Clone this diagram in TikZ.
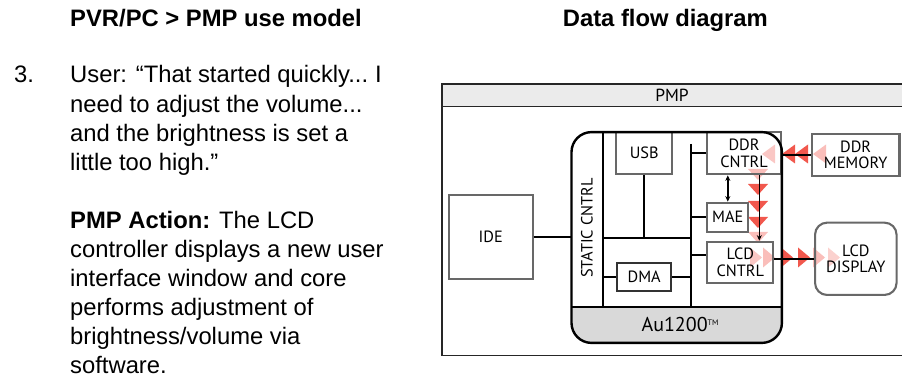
\documentclass[tikz,border=0pt]{standalone}
\usepackage{fontspec}
\setmainfont{Liberation Sans}
\newfontfamily\blockfont{PT Sans}
\usetikzlibrary{arrows.meta}
\definecolor{boxgray}{HTML}{686868}
\definecolor{headgray}{HTML}{EBEBEB}
\definecolor{bandgray}{HTML}{D9D9D9}
\definecolor{flowred}{HTML}{F0463A}
\begin{document}
\begin{tikzpicture}[x=1pt, y=-1pt,
    blk/.style={draw=boxgray, line width=2.1pt, align=center, inner sep=0pt,
      font=\blockfont\fontsize{16.3}{16.5}\selectfont},
    wire/.style={line width=1.7pt},
    bigtext/.style={font=\fontsize{23.8}{29.1}\selectfont},
    headtext/.style={font=\bfseries\fontsize{23.8}{29.1}\selectfont}]
  \useasboundingbox (0,0) rectangle (902,379);

  % left column
  \node[anchor=base west, headtext, inner sep=0pt] (title) at (70,27) {PVR/PC > PMP use model};
  \node[anchor=base west, bigtext, inner sep=0pt] (num) at (14,83) {3.};
  \node[anchor=north west, bigtext, align=left, inner sep=0pt] (usertext) at (70,65.5)
    {User: “That started quickly...\hspace{-2pt} I\\
     need to adjust the volume...\\
     and the brightness is set a\\
     little too high.”\\[29.1pt]
     \textbf{PMP Action:} The LCD\\
     controller displays a new user\\
     interface window and core\\
     performs adjustment of\\
     brightness/volume via\\
     software.};

  % right column
  \node[anchor=base west, headtext, inner sep=0pt] (dftitle) at (562.7,27) {Data flow diagram};
  \fill[headgray] (441.7,84.3) rectangle (912,106.5);
  \draw[line width=1.6pt, draw=black!85] (441.7,84.3) rectangle (912,355.5);
  \draw[line width=1.6pt, draw=black!85] (441.7,106.5) -- (912,106.5);
  \node[font=\blockfont\fontsize{17.5}{17}\selectfont] (pmp) at (672,95.5) {PMP};

  \node[minimum width=210pt, minimum height=210.4pt, inner sep=0pt] (au) at (676.7,237.5) {};
  \begin{scope}
    \clip[rounded corners=20pt] (au.north west) rectangle (au.south east);
    \fill[bandgray] (571.7,307.3) rectangle (781.7,342.7);
  \end{scope}
  \node[font=\blockfont\fontsize{20}{20}\selectfont] (aulabel) at (680,324)
    {Au1200\raisebox{5.5pt}{\fontsize{8}{8}\selectfont TM}};
  \node[rotate=90, font=\blockfont\fontsize{16.3}{16}\selectfont] (static) at (587,228) {STATIC CNTRL};

  % data flow marks
  \foreach \tx/\op in {762/.3, 782/.9, 795/.9, 813/.35}
    \fill[flowred, fill opacity=\op] (\tx,154) -- ++(13,-9.5) -- ++(0,19) -- cycle;
  \foreach \ty/\op in {180/.35, 195/.9, 212/.9, 228/.9, 243/.35}
    \fill[flowred, fill opacity=\op] (758,\ty) -- ++(-10,-11) -- ++(20,0) -- cycle;
  \foreach \tx/\op in {762/.3, 775/.35, 793/.9, 810/.9, 825/.35, 840/.25}
    \fill[flowred, fill opacity=\op] (\tx,257.5) -- ++(-12,-10) -- ++(0,20) -- cycle;

  % blocks
  \node[blk, minimum width=83.7pt, minimum height=84.3pt] (ide) at (490.8,237.2) {IDE};
  \node[blk, minimum width=56.3pt, minimum height=41.7pt] (usb) at (644.2,153.2) {USB};
  \node[blk, minimum width=73.4pt, minimum height=42pt] (ddrc) at (744,153.3) {DDR\\CNTRL};
  \node[blk, minimum width=41pt, minimum height=29pt] (mae) at (727.8,217.2) {MAE};
  \node[blk, minimum width=66pt, minimum height=41.6pt] (lcdc) at (740.3,262.5) {LCD\\CNTRL};
  \node[blk, draw=black!80, minimum width=53.7pt, minimum height=28pt] (dma) at (644.2,276.7) {DMA};
  \node[blk, minimum width=87.8pt, minimum height=41.4pt] (ddrm) at (855.6,155) {DDR\\MEMORY};
  \node[blk, rounded corners=12pt, minimum width=81.5pt, minimum height=72.3pt] (lcdd) at (855.8,258.8) {LCD\\DISPLAY};

  \coordinate (stop) at (603.3,132.3);
  \coordinate (sbot) at (603.3,307.3);
  \coordinate (btop) at (690.7,144);
  \coordinate (bbot) at (690.7,307.3);
  \coordinate (hbus) at (603.3,238.3);

  \begin{scope}[wire]
    \draw (stop) to (sbot);
    \draw (btop) to (bbot);
    \draw (hbus) to (hbus -| btop);
    \draw (usb.south) to (usb.south |- hbus);
    \draw (ddrc.west -| btop) to (ddrc.west);
    \draw (mae.west -| btop) to (mae.west);
    \draw ([yshift=7.5pt]lcdc.west -| btop) to ([yshift=7.5pt]lcdc.west);
    \draw (dma.west -| stop) to (dma.west);
    \draw (dma.east) to (dma.east -| btop);
    \draw (ide.east) to (ide.east -| au.west);
    \draw (ddrm.west) to (ddrm.west -| au.east);
    \draw (lcdd.west) to (lcdd.west -| lcdc.east);
    \draw[{Stealth[length=5.5pt,width=5pt]}-{Stealth[length=5.5pt,width=5pt]}, line width=1.4pt]
      (mae.north |- ddrc.south) to (mae.north);
    \draw[-{Stealth[length=5.5pt,width=5pt]}, line width=1.4pt]
      ([xshift=15.3pt]ddrc.south) to ([xshift=15.3pt]ddrc.south |- lcdc.north);
  \end{scope}
  \draw[wire] (au.west |- sbot) to (au.east |- sbot);
  \draw[line width=2.4pt, rounded corners=20pt] (au.north west) rectangle (au.south east);
\end{tikzpicture}
\end{document}
